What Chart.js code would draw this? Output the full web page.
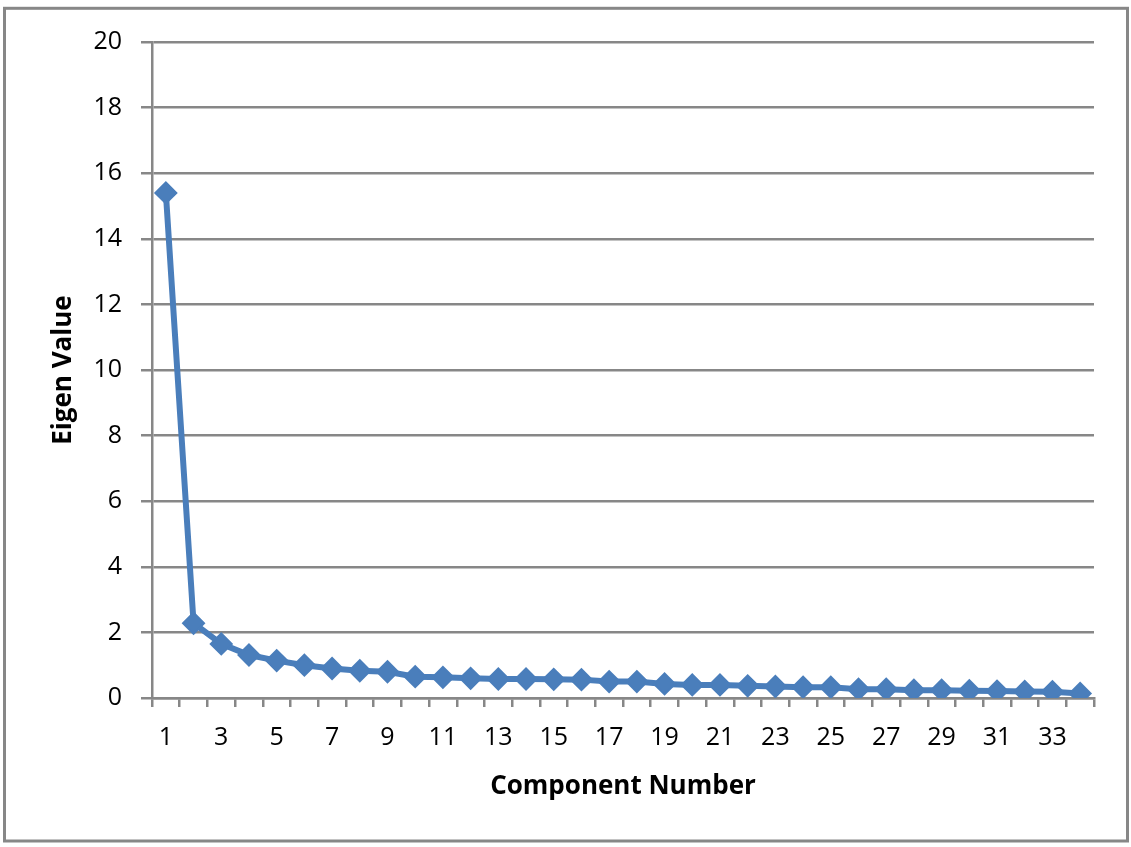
<!DOCTYPE html>
<html>
<head>
<meta charset="utf-8">
<script src="https://cdn.jsdelivr.net/npm/chart.js@4"></script>
<style>
  html, body { margin: 0; padding: 0; background: #fff; }
  canvas { display: block; }
</style>
</head>
<body>
<canvas id="c" width="1131" height="847"></canvas>
<script>
const categories = ["1","2","3","4","5","6","7","8","9","10","11","12","13","14","15","16","17","18","19","20","21","22","23","24","25","26","27","28","29","30","31","32","33","34"];
const eigenValues = [15.4, 2.28, 1.65, 1.31, 1.14, 1.0, 0.9, 0.83, 0.8, 0.65, 0.63, 0.6, 0.58, 0.58, 0.57, 0.56, 0.5, 0.5, 0.43, 0.4, 0.4, 0.37, 0.35, 0.33, 0.33, 0.27, 0.27, 0.24, 0.24, 0.22, 0.21, 0.2, 0.19, 0.14];
const xTickLabels = ["1","3","5","7","9","11","13","15","17","19","21","23","25","27","29","31","33"];
const yTicks = [0, 2, 4, 6, 8, 10, 12, 14, 16, 18, 20];

const GRID = '#878787';
const BLUE = '#4A7EBB';

const frame = {
  id: 'frame',
  beforeDraw(chart) {
    const ctx = chart.ctx;
    ctx.save();
    ctx.fillStyle = '#fff';
    ctx.fillRect(0, 0, chart.width, chart.height);
    ctx.strokeStyle = GRID;
    ctx.lineWidth = 3;
    ctx.strokeRect(4.5, 8.3, 1123, 832.7);
    ctx.restore();
  }
};

new Chart(document.getElementById('c'), {
  type: 'line',
  data: {
    labels: categories,
    datasets: [{
      data: eigenValues,
      borderColor: BLUE,
      backgroundColor: BLUE,
      borderWidth: 6,
      pointStyle: 'rectRot',
      pointRadius: 10.5,
      pointBorderWidth: 2,
      pointBackgroundColor: BLUE,
      pointBorderColor: BLUE,
      tension: 0,
      fill: false
    }]
  },
  options: {
    responsive: false,
    animation: false,
    layout: { padding: { top: 42, right: 37, bottom: 0, left: 0 } },
    plugins: { legend: { display: false }, tooltip: { enabled: false } },
    scales: {
      x: {
        type: 'category',
        offset: true,
        afterFit: s => { s.height = 149; },
        grid: { offset: true, drawOnChartArea: false, drawTicks: true, tickLength: 9, color: GRID, lineWidth: 2.5 },
        border: { display: true, color: GRID, width: 2.5 },
        ticks: {
          autoSkip: false, maxRotation: 0, minRotation: 0, padding: 16,
          color: '#000',
          font: { family: '"Open Sans", sans-serif', size: 25 },
          callback: (v, i) => xTickLabels.includes(categories[i]) ? categories[i] : ''
        },
        title: {
          display: true, text: 'Component Number', color: '#000',
          font: { family: '"Open Sans", sans-serif', size: 26, weight: 'bold' },
          padding: { top: 0, bottom: 45 }
        }
      },
      y: {
        min: 0, max: 20,
        afterFit: s => { s.width = 152; },
        afterBuildTicks: s => { s.ticks = yTicks.map(v => ({ value: v })); },
        grid: { color: GRID, lineWidth: 2.5, tickLength: 11, drawTicks: true },
        border: { display: true, color: GRID, width: 2.5 },
        ticks: {
          padding: 19, color: '#000',
          font: { family: '"Open Sans", sans-serif', size: 25 }
        },
        title: {
          display: true, text: 'Eigen Value', color: '#000',
          font: { family: '"Open Sans", sans-serif', size: 26, weight: 'bold' },
          padding: { top: 48, bottom: 0 }
        }
      }
    }
  },
  plugins: [frame]
});
</script>
</body>
</html>
